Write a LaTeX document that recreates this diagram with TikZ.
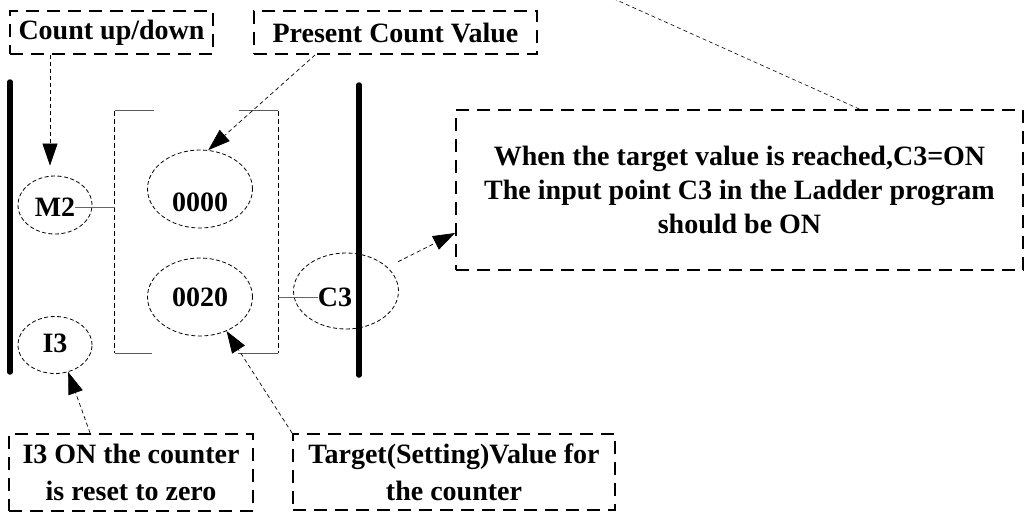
\documentclass[tikz,border=0pt]{standalone}
\usepackage{fontspec}
\setmainfont{Liberation Serif}
\usepackage{tikz}
\usetikzlibrary{arrows.meta, positioning, shapes.geometric, calc}

\tikzset{
  txt/.style={font=\bfseries\fontsize{28}{34}\selectfont, inner sep=0pt},
  notebox/.style={draw, line width=1.8pt, dash pattern=on 13pt off 8pt, align=center,
    font=\bfseries\fontsize{28}{34}\selectfont, inner sep=0pt},
  oval/.style={draw, ellipse, line width=0.8pt, dash pattern=on 4pt off 2.5pt, inner sep=0pt},
  callout/.style={-{Triangle[length=22pt,width=15pt]}, line width=0.7pt, dash pattern=on 4pt off 3pt},
  rail/.style={line width=5.5pt, line cap=round},
  brkside/.style={line width=0.8pt, dash pattern=on 5pt off 3pt},
  brkend/.style={line width=1pt, black!65},
  wire/.style={line width=1pt, black!60},
}

\begin{document}
\begin{tikzpicture}[x=1pt, y=-1pt]
  \useasboundingbox (0,0) rectangle (1026,514);
  % Stromschienen
  \draw[rail] (10,82) -- (10,372);
  \draw[rail] (359,85) -- (359,375);
  % Zaehler-Klammer
  \node[minimum width=163pt, minimum height=242pt, inner sep=0pt] (ctr) at (196.5,232) {};
  \draw[brkend] ($(ctr.north west)+(39,0)$) -- (ctr.north west);
  \draw[brkside] (ctr.north west) -- (ctr.south west);
  \draw[brkend] (ctr.south west) -- ($(ctr.south west)+(37,0)$);
  \draw[brkend] ($(ctr.north east)+(-39,0)$) -- (ctr.north east);
  \draw[brkside] (ctr.north east) -- (ctr.south east);
  \draw[brkend] (ctr.south east) -- ($(ctr.south east)+(-40,0)$);
  % Kontakte und Werte
  \node[oval, minimum width=74pt, minimum height=58pt] (m2) at (55,205) {};
  \node[txt] (m2t) at (55,207) {M2};
  \node[oval, minimum width=74pt, minimum height=57pt] (i3) at (55,345) {};
  \node[txt] (i3t) at (55,343) {I3};
  \node[oval, minimum width=105pt, minimum height=78pt] (cv) at (200,189) {};
  \node[txt] (cvt) at (200,202) {0000};
  \node[oval, minimum width=105pt, minimum height=78pt] (sv) at (200,297) {};
  \node[txt] (svt) at (200,297) {0020};
  \node[oval, minimum width=105pt, minimum height=76pt] (c3) at (346,291) {};
  \node[txt] (c3t) at (335,297) {C3};
  \draw[wire] (m2t.east) -- (m2t.east -| ctr.west);
  \draw[wire] (c3t.west -| ctr.east) -- (c3t.west);
  % Hinweise
  \node[notebox, minimum width=203pt, minimum height=43pt] (up) at (111.5,32.5) {Count up/down};
  \node[notebox, minimum width=283pt, minimum height=43pt] (pcv) at (395.5,32.5) {Present Count Value};
  \node[notebox, minimum width=567pt, minimum height=160pt] (note) at (739.5,190)
    {When the target value is reached,C3=ON\\The input point C3 in the Ladder program\\should be ON};
  \node[notebox, font=\bfseries\fontsize{28}{37}\selectfont, minimum width=244pt, minimum height=77pt] (rst) at (131,472.5)
    {I3 ON the counter\\is reset to zero};
  \node[notebox, font=\bfseries\fontsize{28}{37}\selectfont, minimum width=322pt, minimum height=76pt] (tgt) at (454,472)
    {Target(Setting)Value for\\the counter};
  % Pfeile
  \coordinate (m2in) at ($(m2.north)+(-5,-10)$);
  \draw[callout] (up.south -| m2in) -- (m2in);
  \draw[callout] ([xshift=62pt]pcv.south west) -- (cv.78);
  \draw[callout] (tgt.north west) -- (sv.-52);
  \draw[callout] ([xshift=82pt]rst.north west) -- (i3.-64);
  \draw[callout, shorten <=12pt] (c3.30) -- ([yshift=-43pt]note.west);
  \coordinate (topend) at (612,-2);
  \draw[line width=0.6pt, dash pattern=on 4pt off 3pt] ([xshift=120pt]note.north) -- (topend);
\end{tikzpicture}
\end{document}
